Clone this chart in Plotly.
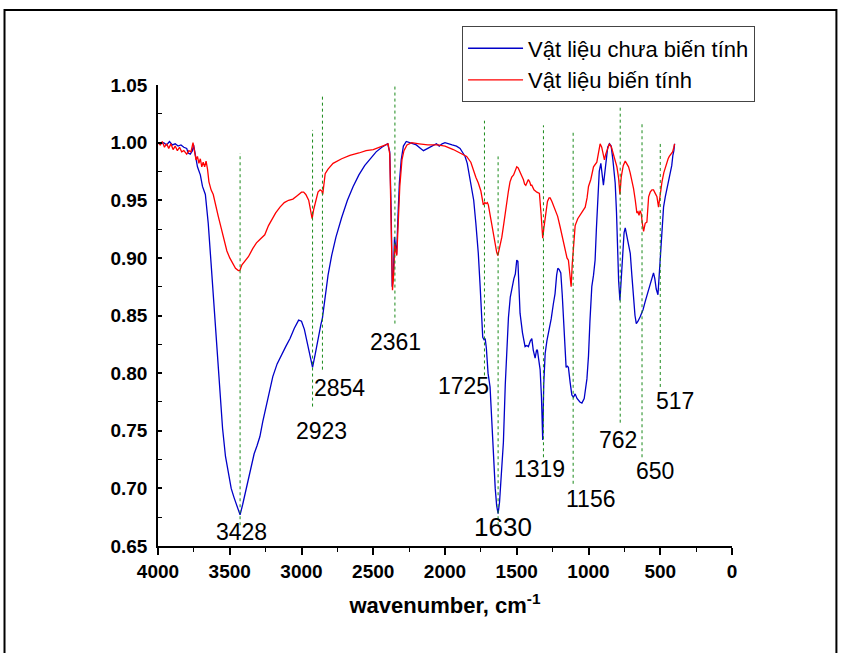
import plotly.graph_objects as go

# ---------------- data ----------------
blue_w = [4000, 3980, 3960, 3940, 3920, 3900, 3880, 3860, 3840, 3820, 3800, 3790, 3775, 3760, 3752, 3740,
          3725, 3705, 3690, 3670, 3650, 3630, 3610, 3590, 3570, 3550, 3530, 3510, 3490, 3470, 3450, 3428,
          3410, 3390, 3370, 3350, 3330, 3310, 3290, 3270, 3250, 3230, 3200, 3170, 3140, 3110, 3080, 3050,
          3020, 3000, 2980, 2960, 2940, 2923, 2905, 2885, 2865, 2854, 2835, 2815, 2790, 2760, 2720, 2680,
          2640, 2600, 2560, 2520, 2480, 2440, 2400, 2385, 2375, 2368, 2360, 2352, 2345, 2337, 2328, 2318,
          2305, 2290, 2270, 2240, 2200, 2170, 2150, 2120, 2090, 2060, 2040, 2020, 2000, 1980, 1950, 1920,
          1895, 1875, 1860, 1845, 1830, 1815, 1800, 1785, 1768, 1755, 1745, 1737, 1728, 1720, 1712, 1700,
          1686, 1675, 1663, 1650, 1640, 1630, 1620, 1608, 1593, 1580, 1568, 1558, 1545, 1532, 1520, 1510,
          1500, 1492, 1483, 1477, 1460, 1442, 1430, 1419, 1405, 1395, 1385, 1372, 1362, 1356, 1345, 1337,
          1328, 1319, 1312, 1302, 1290, 1279, 1260, 1245, 1233, 1222, 1214, 1205, 1193, 1183, 1175, 1165,
          1156, 1148, 1140, 1128, 1116, 1105, 1093, 1080, 1060, 1046, 1030, 1011, 1000, 990, 977, 965,
          954, 945, 935, 925, 914, 906, 896, 888, 878, 866, 854, 842, 830, 814, 805, 798,
          790, 781, 772, 762, 752, 744, 735, 722, 709, 698, 686, 676, 667, 655, 640, 620,
          605, 588, 570, 555, 547, 538, 528, 516, 508, 500, 488, 477, 465, 453, 440, 430,
          420, 412, 405, 400]
blue_t = [1.000, 0.999, 1.000, 0.998, 1.001, 0.998, 0.999, 0.997, 0.998, 0.996, 0.995, 0.991, 0.990, 0.993, 0.998, 0.990,
          0.979, 0.972, 0.962, 0.955, 0.930, 0.895, 0.860, 0.820, 0.785, 0.752, 0.728, 0.712, 0.700, 0.692, 0.684, 0.677,
          0.686, 0.697, 0.708, 0.720, 0.730, 0.737, 0.745, 0.758, 0.770, 0.782, 0.797, 0.808, 0.816, 0.823, 0.830, 0.839,
          0.846, 0.845, 0.838, 0.826, 0.812, 0.805, 0.816, 0.830, 0.842, 0.848, 0.868, 0.885, 0.902, 0.918, 0.935, 0.950,
          0.962, 0.972, 0.980, 0.986, 0.992, 0.996, 0.999, 0.992, 0.940, 0.875, 0.885, 0.918, 0.910, 0.903, 0.935, 0.965,
          0.985, 0.997, 1.001, 1.000, 0.998, 0.995, 0.993, 0.995, 0.997, 0.999, 0.997, 0.999, 1.000, 0.999, 0.998, 0.997,
          0.995, 0.991, 0.988, 0.982, 0.972, 0.962, 0.950, 0.930, 0.904, 0.875, 0.848, 0.831, 0.829, 0.830, 0.822, 0.800,
          0.788, 0.760, 0.730, 0.700, 0.685, 0.678, 0.688, 0.712, 0.740, 0.790, 0.830, 0.848, 0.866, 0.876, 0.882, 0.886,
          0.898, 0.897, 0.870, 0.852, 0.835, 0.823, 0.824, 0.823, 0.828, 0.830, 0.820, 0.813, 0.820, 0.820, 0.810, 0.803,
          0.780, 0.742, 0.790, 0.817, 0.828, 0.834, 0.847, 0.860, 0.869, 0.885, 0.891, 0.890, 0.887, 0.868, 0.846, 0.822,
          0.805, 0.806, 0.805, 0.792, 0.781, 0.779, 0.782, 0.778, 0.775, 0.774, 0.778, 0.795, 0.815, 0.845, 0.875, 0.885,
          0.898, 0.925, 0.955, 0.975, 0.982, 0.975, 0.963, 0.972, 0.985, 0.996, 0.999, 0.997, 0.985, 0.965, 0.940, 0.907,
          0.880, 0.863, 0.885, 0.907, 0.922, 0.926, 0.920, 0.912, 0.904, 0.885, 0.863, 0.850, 0.843, 0.845, 0.849, 0.855,
          0.862, 0.870, 0.876, 0.883, 0.887, 0.882, 0.873, 0.868, 0.885, 0.901, 0.925, 0.944, 0.953, 0.960, 0.968, 0.973,
          0.980, 0.989, 0.993, 0.999]

red_w = [4000, 3985, 3970, 3955, 3940, 3925, 3910, 3895, 3880, 3865, 3850, 3835, 3820, 3800, 3785, 3770,
         3756, 3745, 3735, 3725, 3715, 3705, 3695, 3685, 3675, 3665, 3655, 3645, 3630, 3615, 3600, 3580,
         3560, 3540, 3520, 3500, 3480, 3460, 3440, 3430, 3415, 3395, 3370, 3340, 3314, 3290, 3256, 3230,
         3205, 3180, 3150, 3120, 3090, 3060, 3030, 3000, 2985, 2970, 2950, 2935, 2926, 2915, 2900, 2885,
         2870, 2858, 2852, 2845, 2835, 2815, 2780, 2720, 2663, 2600, 2550, 2500, 2453, 2420, 2396, 2385,
         2375, 2366, 2358, 2350, 2343, 2336, 2326, 2315, 2300, 2286, 2265, 2232, 2180, 2120, 2050, 2000,
         1942, 1895, 1849, 1820, 1803, 1785, 1768, 1750, 1733, 1722, 1714, 1705, 1698, 1686, 1674, 1662,
         1651, 1640, 1632, 1620, 1604, 1590, 1578, 1570, 1558, 1547, 1535, 1522, 1510, 1500, 1490, 1477,
         1465, 1454, 1445, 1437, 1428, 1419, 1410, 1402, 1395, 1380, 1360, 1342, 1331, 1324, 1319, 1312,
         1302, 1293, 1286, 1275, 1267, 1255, 1245, 1233, 1215, 1198, 1180, 1163, 1150, 1140, 1130, 1121,
         1113, 1105, 1093, 1075, 1058, 1040, 1023, 1010, 1000, 984, 965, 942, 930, 919, 908, 898,
         889, 880, 870, 854, 840, 826, 815, 802, 790, 781, 772, 758, 744, 733, 721, 710,
         698, 686, 674, 663, 655, 648, 640, 632, 625, 616, 605, 593, 581, 570, 558, 547,
         535, 523, 512, 500, 488, 475, 460, 445, 437, 425, 414, 405, 400]
red_t = [1.000, 0.998, 1.001, 0.996, 0.999, 0.995, 0.999, 0.994, 0.997, 0.993, 0.996, 0.992, 0.993, 0.990, 0.993, 0.992,
         1.000, 0.993, 0.985, 0.988, 0.982, 0.986, 0.979, 0.983, 0.979, 0.984, 0.977, 0.966, 0.959, 0.955, 0.946, 0.936,
         0.926, 0.915, 0.906, 0.900, 0.895, 0.891, 0.889, 0.889, 0.894, 0.897, 0.901, 0.908, 0.913, 0.916, 0.920, 0.928,
         0.934, 0.939, 0.944, 0.948, 0.950, 0.951, 0.954, 0.957, 0.957, 0.955, 0.950, 0.940, 0.934, 0.942, 0.951, 0.957,
         0.959, 0.958, 0.955, 0.965, 0.973, 0.977, 0.982, 0.986, 0.989, 0.991, 0.993, 0.994, 0.996, 0.998, 0.999, 0.990,
         0.930, 0.872, 0.885, 0.912, 0.906, 0.902, 0.930, 0.962, 0.985, 0.993, 0.998, 1.000, 0.999, 0.998, 0.998, 0.997,
         0.994, 0.991, 0.988, 0.983, 0.976, 0.970, 0.965, 0.958, 0.946, 0.948, 0.947, 0.948, 0.946, 0.937, 0.927, 0.918,
         0.911, 0.905, 0.902, 0.908, 0.918, 0.930, 0.942, 0.947, 0.958, 0.966, 0.970, 0.972, 0.976, 0.979, 0.978, 0.975,
         0.971, 0.968, 0.964, 0.963, 0.966, 0.968, 0.966, 0.963, 0.963, 0.959, 0.957, 0.956, 0.939, 0.925, 0.917, 0.925,
         0.936, 0.944, 0.949, 0.952, 0.952, 0.949, 0.946, 0.943, 0.936, 0.927, 0.917, 0.907, 0.900, 0.898, 0.888, 0.875,
         0.895, 0.910, 0.928, 0.934, 0.937, 0.940, 0.944, 0.952, 0.962, 0.968, 0.979, 0.983, 0.992, 0.999, 0.996, 0.991,
         0.985, 0.990, 0.994, 0.999, 0.996, 0.989, 0.985, 0.979, 0.969, 0.955, 0.970, 0.980, 0.984, 0.982, 0.979, 0.974,
         0.968, 0.960, 0.950, 0.939, 0.940, 0.937, 0.941, 0.938, 0.930, 0.923, 0.930, 0.931, 0.953, 0.957, 0.959, 0.959,
         0.956, 0.953, 0.944, 0.958, 0.966, 0.974, 0.981, 0.986, 0.988, 0.990, 0.992, 0.996, 0.999]

series_names = ["Vật liệu chưa biến tính", "Vật liệu biến tính"]

# peak markers: label text, wavenumber of dotted guide, guide extent (transmittance)
peak_labels = ["3428", "2923", "2854", "2361", "1725", "1630", "1319", "1156", "762", "650", "517"]
peak_line_w = [3428, 2923, 2854, 2349, 1725, 1630, 1314, 1107, 779, 627, 500]
peak_line_top = [0.991, 1.011, 1.041, 1.064, 1.019, 0.988, 1.015, 1.009, 1.032, 1.016, 1.001]
peak_line_bot = [0.668, 0.771, 0.803, 0.843, 0.798, 0.668, 0.727, 0.704, 0.757, 0.727, 0.788]

x_ticks = [4000, 3500, 3000, 2500, 2000, 1500, 1000, 500, 0]
y_ticks = [0.65, 0.70, 0.75, 0.80, 0.85, 0.90, 0.95, 1.00, 1.05]

# label placement (layout)
label_x = [3418, 2860, 2732, 2344, 1874, 1593, 1342, 988, 791, 535, 395]
label_y = [0.662, 0.750, 0.787, 0.827, 0.789, 0.6665, 0.717, 0.691, 0.742, 0.715, 0.776]
label_size = [23, 23, 23, 23, 23, 26, 23, 23, 23, 23, 23]

FONT = "Liberation Sans, Arial, sans-serif"

fig = go.Figure()
fig.add_trace(go.Scatter(x=blue_w, y=blue_t, mode="lines", name=series_names[0],
                         line=dict(color="#0000C8", width=1.3)))
fig.add_trace(go.Scatter(x=red_w, y=red_t, mode="lines", name=series_names[1],
                         line=dict(color="#FF0000", width=1.3)))

for w, y0, y1 in zip(peak_line_w, peak_line_bot, peak_line_top):
    fig.add_shape(type="line", xref="x", yref="y", x0=w, x1=w, y0=y0, y1=y1,
                  line=dict(color="#1a8a1a", width=1, dash="dot"))

for txt, x, y, s in zip(peak_labels, label_x, label_y, label_size):
    fig.add_annotation(x=x, y=y, xref="x", yref="y", text=txt, showarrow=False,
                       font=dict(family=FONT, size=s, color="black"),
                       xanchor="center", yanchor="middle")

# outer frame
fig.add_shape(type="rect", xref="paper", yref="paper", x0=-0.2674, x1=1.1819, y0=-0.40, y1=1.1628,
              line=dict(color="black", width=2), layer="below")

fig.update_layout(
    width=841, height=653,
    margin=dict(l=158, r=109, t=85, b=107),
    plot_bgcolor="white", paper_bgcolor="white",
    showlegend=True,
    legend=dict(x=0.5297, y=1.127, xanchor="left", yanchor="top",
                bordercolor="#444", borderwidth=1, bgcolor="white",
                font=dict(family=FONT, size=22, color="black"),
                tracegroupgap=0, itemwidth=55),
    xaxis=dict(range=[4000, 0], tickvals=x_ticks, showgrid=False, zeroline=False,
               showline=True, linecolor="black", linewidth=1.6,
               ticks="outside", ticklen=7, tickwidth=1.5, tickcolor="black",
               minor=dict(ticks="outside", ticklen=4, tickwidth=1.2, dtick=250, tickcolor="black"),
               tickfont=dict(family=FONT, size=19, color="black", weight="bold"),
               title=dict(text="wavenumber, cm<sup>-1</sup>", standoff=17,
                          font=dict(family=FONT, size=22, color="black", weight="bold"))),
    yaxis=dict(range=[0.65, 1.05], tickvals=y_ticks, tickformat=".2f", showgrid=False, zeroline=False,
               showline=True, linecolor="black", linewidth=1.6,
               ticks="inside", ticklen=4, tickwidth=1.5, tickcolor="black",
               ticklabelstandoff=5,
               minor=dict(ticks="inside", ticklen=4, tickwidth=1.2, dtick=0.025, tickcolor="black"),
               tickfont=dict(family=FONT, size=19, color="black", weight="bold")),
)

fig.write_html("out.html")
